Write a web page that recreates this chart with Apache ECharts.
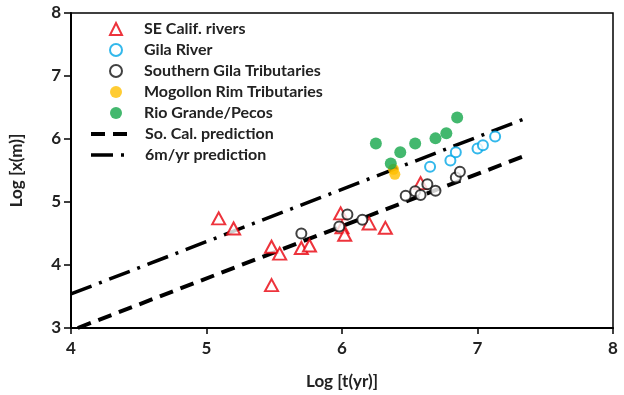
<!DOCTYPE html>
<html><head><meta charset="utf-8">
<script src="https://cdn.jsdelivr.net/npm/echarts@6/dist/echarts.min.js"></script>
<style>html,body{margin:0;padding:0;background:#fff}#c{width:624px;height:395px}</style>
</head><body><div id="c"></div>
<script>
const seCalif = [[5.09,4.74],[5.20,4.58],[5.48,4.29],[5.54,4.18],[5.48,3.68],[5.70,4.27],[5.76,4.31],[5.99,4.82],[6.00,4.60],[6.02,4.48],[6.20,4.66],[6.32,4.59],[6.58,5.30]];
const gilaRiver = [[6.65,5.56],[6.80,5.66],[6.84,5.79],[7.00,5.85],[7.04,5.90],[7.13,6.04]];
const southernGila = [[5.70,4.50],[5.98,4.61],[6.04,4.80],[6.15,4.72],[6.47,5.10],[6.54,5.17],[6.58,5.11],[6.63,5.28],[6.69,5.18],[6.84,5.39],[6.87,5.48]];
const mogollon = [[6.38,5.52],[6.39,5.44]];
const rioGrande = [[6.25,5.93],[6.36,5.61],[6.43,5.79],[6.54,5.93],[6.69,6.01],[6.77,6.09],[6.85,6.34]];
const soCalPred = [[4.05,3.00],[7.38,5.76]];
const sixMPred = [[4.00,3.54],[7.37,6.34]];
const xTicks = [4,5,6,7,8];
const yTicks = [3,4,5,6,7,8];

const font = 'Lato';
const chart = echarts.init(document.getElementById('c'));
const open = (c)=>({color:'#fff', borderColor:c, borderWidth:2});
const soCalDash = {color:'#000',width:4,type:[14,8]};
const sixMDash = {color:'#000',width:3.5,type:[22,8,3,8]};
const legText = (pad)=>({fontFamily:font,fontWeight:'bold',fontSize:16,lineHeight:16,color:'#222',padding:[0,0,0,pad]});
chart.setOption({
  animation:false,
  grid:{left:70,right:11,top:13,bottom:67,show:true,borderColor:'#000',borderWidth:1.5},
  xAxis:{type:'value',min:xTicks[0],max:xTicks[xTicks.length-1],interval:1,
    name:'Log [t(yr)]',nameLocation:'middle',nameGap:45,
    nameTextStyle:{fontFamily:font,fontWeight:'bold',fontSize:17,color:'#222'},
    axisLine:{onZero:false,lineStyle:{color:'#000',width:2}},
    axisTick:{show:true,inside:false,length:6,lineStyle:{color:'#000',width:1.5}},
    axisLabel:{fontFamily:font,fontWeight:'bold',fontSize:17,color:'#222',margin:12},
    splitLine:{show:false}},
  yAxis:{type:'value',min:yTicks[0],max:yTicks[yTicks.length-1],interval:1,
    name:'Log [x(m)]',nameLocation:'middle',nameGap:46,nameRotate:90,
    nameTextStyle:{fontFamily:font,fontWeight:'bold',fontSize:17,color:'#222'},
    axisLine:{onZero:false,lineStyle:{color:'#000',width:2}},
    axisTick:{show:true,length:7,lineStyle:{color:'#000',width:1.5}},
    axisLabel:{fontFamily:font,fontWeight:'bold',fontSize:17,color:'#222',margin:10},
    splitLine:{show:false}},
  legend:[{
    orient:'vertical',left:109,top:21,padding:0,itemWidth:12,itemHeight:12,itemGap:5,
    data:['SE Calif. rivers','Gila River','Southern Gila Tributaries','Mogollon Rim Tributaries','Rio Grande/Pecos'],
    textStyle:legText(17)
  },{
    orient:'vertical',left:89,top:126,padding:0,itemWidth:41,itemHeight:12,itemGap:5,
    itemStyle:{color:'transparent',borderColor:'transparent',borderWidth:0},
    data:[{name:'So. Cal. prediction',lineStyle:soCalDash},{name:'6m/yr prediction',lineStyle:sixMDash}],
    textStyle:legText(8)
  }],
  series:[
    {name:'So. Cal. prediction',type:'line',data:soCalPred,symbol:'none',z:1,
      lineStyle:soCalDash,itemStyle:{color:'#000'}},
    {name:'6m/yr prediction',type:'line',data:sixMPred,symbol:'none',z:1,
      lineStyle:sixMDash,itemStyle:{color:'#000'}},
    {name:'SE Calif. rivers',type:'scatter',data:seCalif,symbol:'triangle',symbolSize:[13,12],z:3,itemStyle:open('#e8000b')},
    {name:'Gila River',type:'scatter',data:gilaRiver,symbol:'circle',symbolSize:10,z:3,itemStyle:open('#00a6e6')},
    {name:'Southern Gila Tributaries',type:'scatter',data:southernGila,symbol:'circle',symbolSize:10,z:4,itemStyle:open('#111')},
    {name:'Mogollon Rim Tributaries',type:'scatter',data:mogollon,symbol:'circle',symbolSize:11,z:3,itemStyle:{color:'#ffbf00'}},
    {name:'Rio Grande/Pecos',type:'scatter',data:rioGrande,symbol:'circle',symbolSize:12,z:3,itemStyle:{color:'#14a64a'}}
  ]
});
</script></body></html>
